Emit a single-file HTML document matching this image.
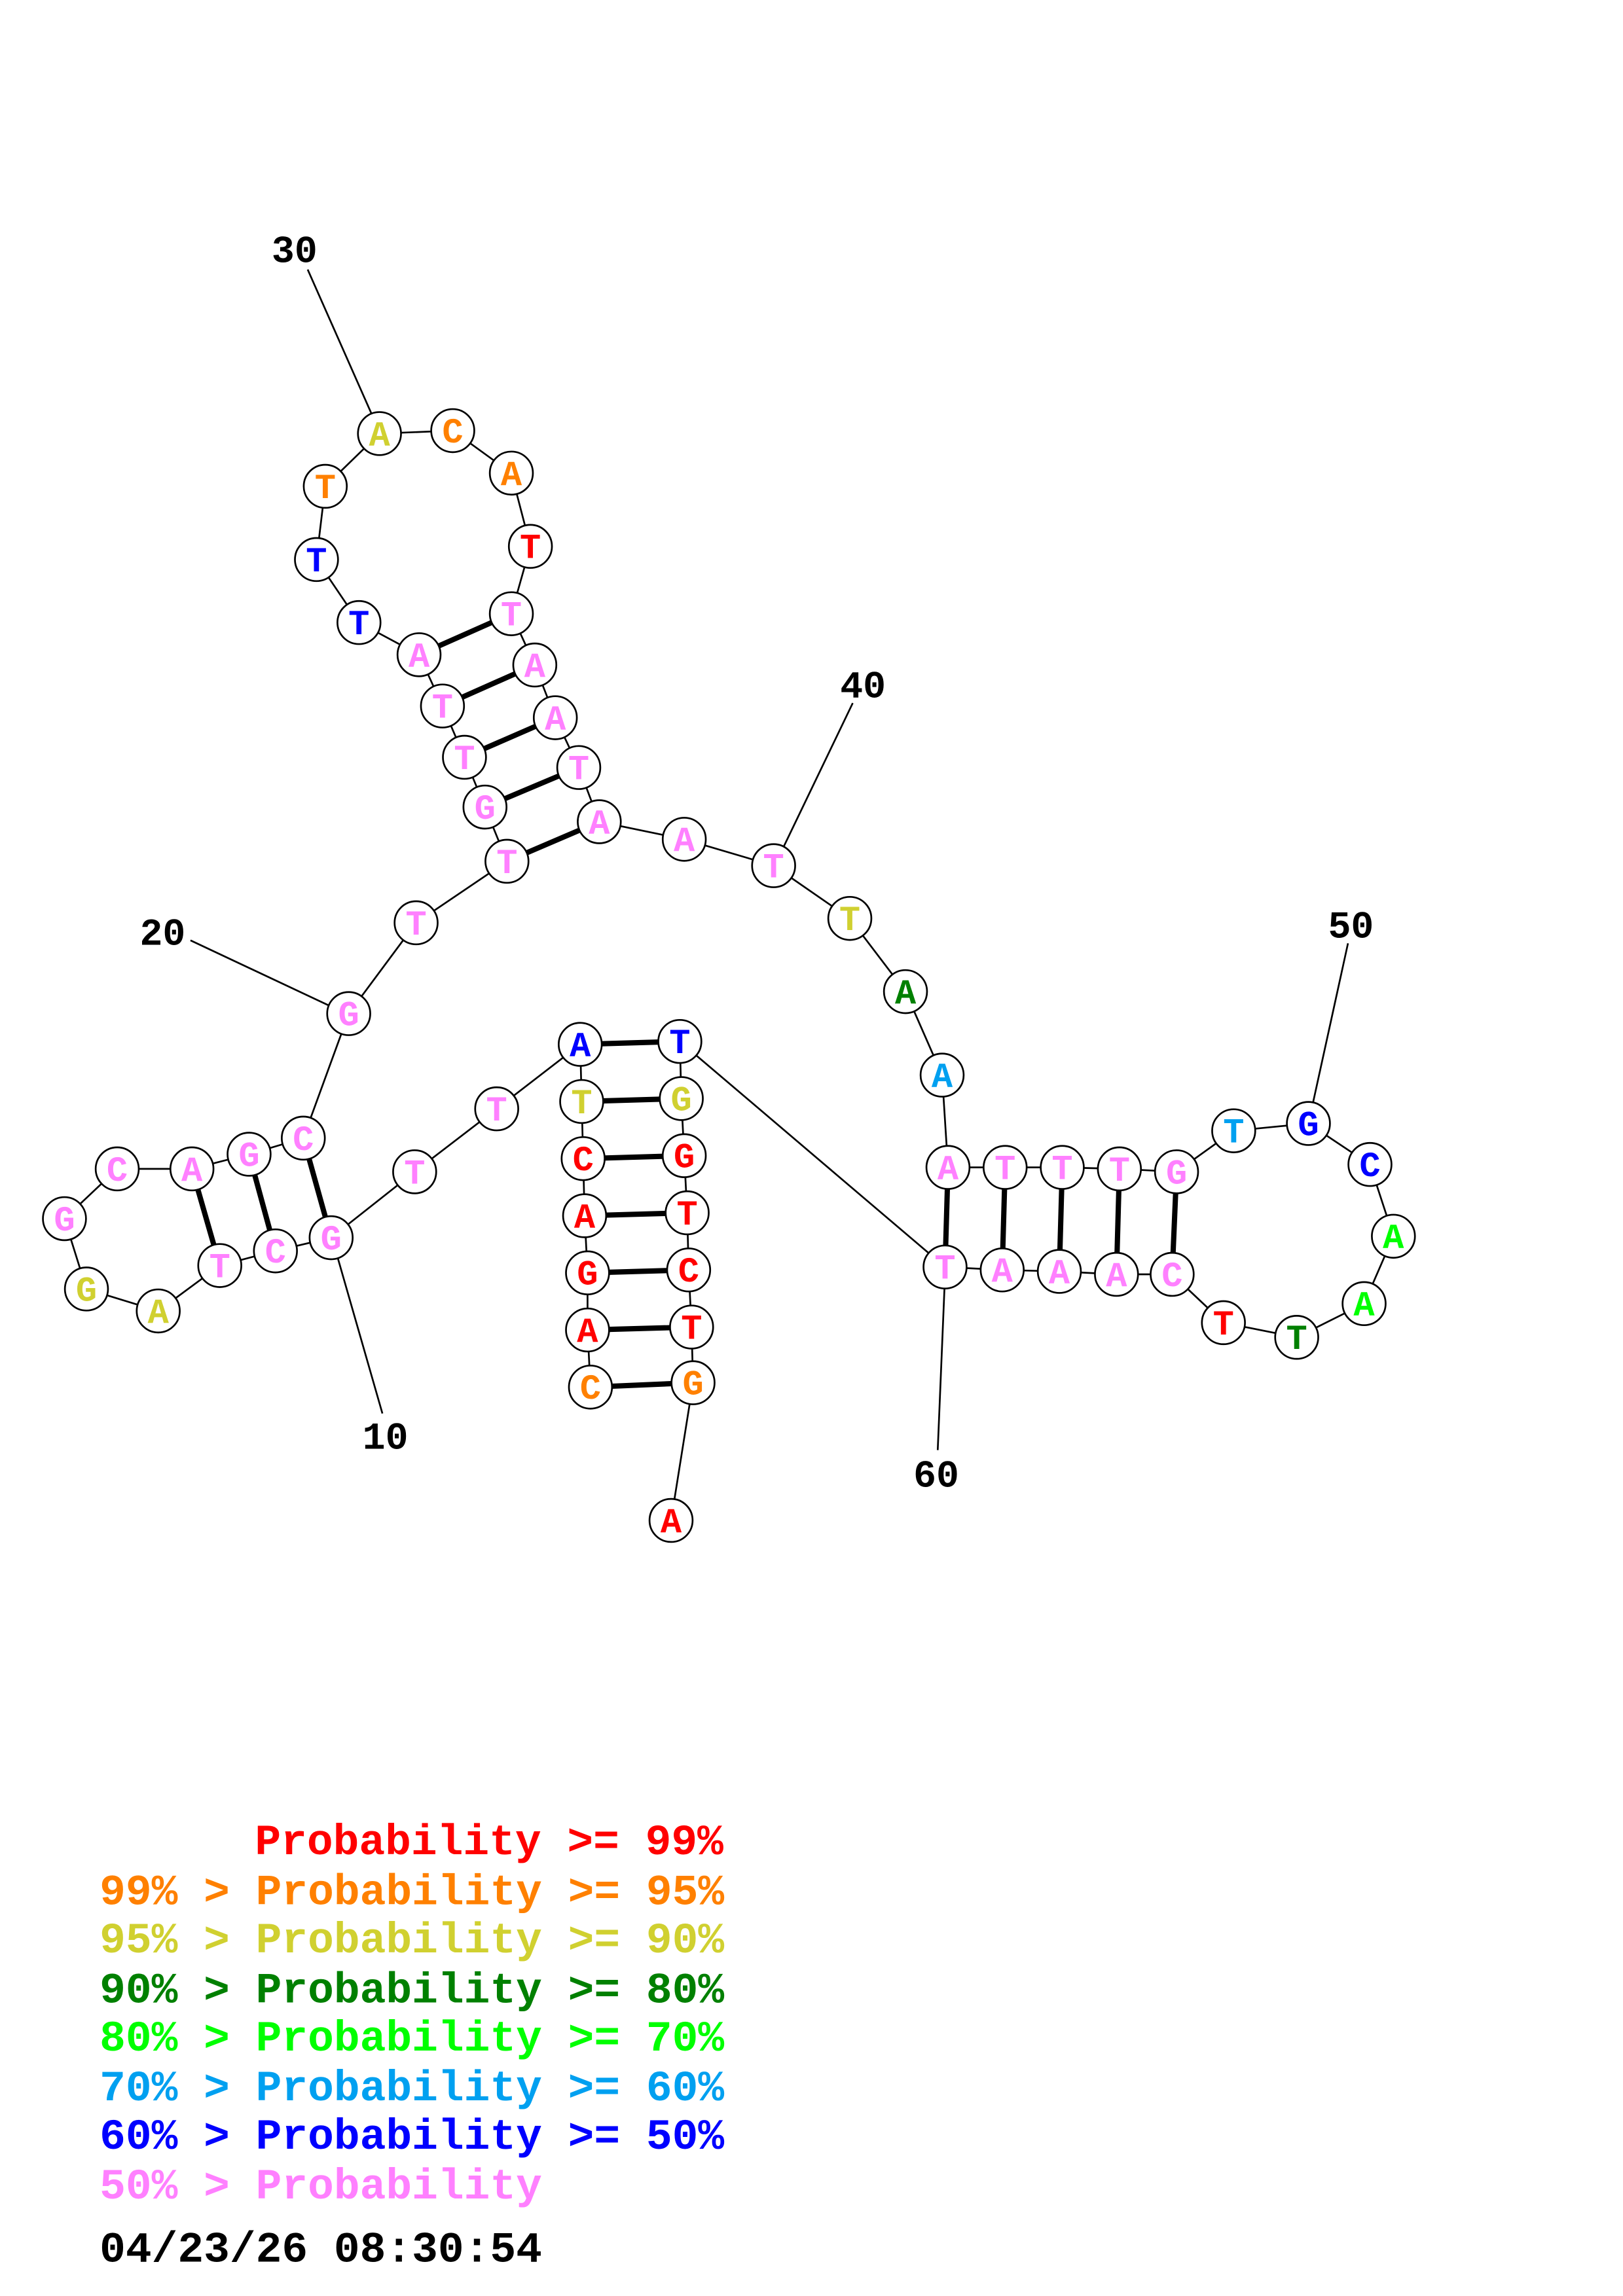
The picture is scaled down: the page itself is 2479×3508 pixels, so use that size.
<!DOCTYPE html>
<html><head><meta charset="utf-8"><style>
html,body{margin:0;padding:0;background:#fff}
svg{display:block}
.n circle{fill:#fff;stroke:#000;stroke-width:1.2}
.n text{font-family:"Liberation Mono",monospace;font-weight:bold;font-size:24px;text-anchor:middle}
.lab{font-family:"Liberation Mono",monospace;font-weight:bold;font-size:26px;text-anchor:middle;fill:#000}
.lg{font-family:"Liberation Mono",monospace;font-weight:bold;font-size:29.6px;white-space:pre}
</style></head><body>
<svg width="2479" height="3508" viewBox="0 0 1107.7 1567.5" preserveAspectRatio="none" xmlns="http://www.w3.org/2000/svg">
<g stroke="#000" stroke-width="1.2" fill="none">
<polyline points="403,947 401,908 401,869 399,830 398,791 397,752 396,713 339,757 283,800 226,845 188,854 150,864 108,895 59,880 44,832 80,798 131,798 170,788 207,777 238,692 284,630 346,588 331,551 317,517 302,482 286,447 245,425 216,382 222,332 259,296 309,294 349,323 362,373 349,419 365,454 379,490 395,524 409,561 467,573 528,591 580,627 618,677 643,734 647,797 686,797 725,797 764,798 803,800 842,772 893,767 935,795 951,844 931,890 885,913 835,903 800,870 762,870 723,868 684,867 645,865 464,711 465,750 467,789 469,828 470,867 472,906 473,944 458,1038"/>
<line x1="210" y1="184" x2="256" y2="288"/>
<line x1="582" y1="480" x2="532" y2="584"/>
<line x1="130" y1="642" x2="232" y2="690"/>
<line x1="920" y1="644" x2="895" y2="758"/>
<line x1="261" y1="965" x2="228" y2="850"/>
<line x1="640" y1="990" x2="645" y2="870"/>
</g>
<g stroke="#000" stroke-width="3.6">
<line x1="403" y1="947" x2="473" y2="944"/>
<line x1="401" y1="908" x2="472" y2="906"/>
<line x1="401" y1="869" x2="470" y2="867"/>
<line x1="399" y1="830" x2="469" y2="828"/>
<line x1="398" y1="791" x2="467" y2="789"/>
<line x1="397" y1="752" x2="465" y2="750"/>
<line x1="396" y1="713" x2="464" y2="711"/>
<line x1="226" y1="845" x2="207" y2="777"/>
<line x1="188" y1="854" x2="170" y2="788"/>
<line x1="150" y1="864" x2="131" y2="798"/>
<line x1="346" y1="588" x2="409" y2="561"/>
<line x1="331" y1="551" x2="395" y2="524"/>
<line x1="317" y1="517" x2="379" y2="490"/>
<line x1="302" y1="482" x2="365" y2="454"/>
<line x1="286" y1="447" x2="349" y2="419"/>
<line x1="647" y1="797" x2="645" y2="865"/>
<line x1="686" y1="797" x2="684" y2="867"/>
<line x1="725" y1="797" x2="723" y2="868"/>
<line x1="764" y1="798" x2="762" y2="870"/>
<line x1="803" y1="800" x2="800" y2="870"/>
</g>
<g class="n">
<g><circle cx="403" cy="947" r="14.7"/><text x="403" y="955" fill="#ff8000">C</text></g>
<g><circle cx="401" cy="908" r="14.7"/><text x="401" y="916" fill="#ff0000">A</text></g>
<g><circle cx="401" cy="869" r="14.7"/><text x="401" y="877" fill="#ff0000">G</text></g>
<g><circle cx="399" cy="830" r="14.7"/><text x="399" y="838" fill="#ff0000">A</text></g>
<g><circle cx="398" cy="791" r="14.7"/><text x="398" y="799" fill="#ff0000">C</text></g>
<g><circle cx="397" cy="752" r="14.7"/><text x="397" y="760" fill="#d0d030">T</text></g>
<g><circle cx="396" cy="713" r="14.7"/><text x="396" y="721" fill="#0000ff">A</text></g>
<g><circle cx="339" cy="757" r="14.7"/><text x="339" y="765" fill="#ff80ff">T</text></g>
<g><circle cx="283" cy="800" r="14.7"/><text x="283" y="808" fill="#ff80ff">T</text></g>
<g><circle cx="226" cy="845" r="14.7"/><text x="226" y="853" fill="#ff80ff">G</text></g>
<g><circle cx="188" cy="854" r="14.7"/><text x="188" y="862" fill="#ff80ff">C</text></g>
<g><circle cx="150" cy="864" r="14.7"/><text x="150" y="872" fill="#ff80ff">T</text></g>
<g><circle cx="108" cy="895" r="14.7"/><text x="108" y="903" fill="#d0d030">A</text></g>
<g><circle cx="59" cy="880" r="14.7"/><text x="59" y="888" fill="#d0d030">G</text></g>
<g><circle cx="44" cy="832" r="14.7"/><text x="44" y="840" fill="#ff80ff">G</text></g>
<g><circle cx="80" cy="798" r="14.7"/><text x="80" y="806" fill="#ff80ff">C</text></g>
<g><circle cx="131" cy="798" r="14.7"/><text x="131" y="806" fill="#ff80ff">A</text></g>
<g><circle cx="170" cy="788" r="14.7"/><text x="170" y="796" fill="#ff80ff">G</text></g>
<g><circle cx="207" cy="777" r="14.7"/><text x="207" y="785" fill="#ff80ff">C</text></g>
<g><circle cx="238" cy="692" r="14.7"/><text x="238" y="700" fill="#ff80ff">G</text></g>
<g><circle cx="284" cy="630" r="14.7"/><text x="284" y="638" fill="#ff80ff">T</text></g>
<g><circle cx="346" cy="588" r="14.7"/><text x="346" y="596" fill="#ff80ff">T</text></g>
<g><circle cx="331" cy="551" r="14.7"/><text x="331" y="559" fill="#ff80ff">G</text></g>
<g><circle cx="317" cy="517" r="14.7"/><text x="317" y="525" fill="#ff80ff">T</text></g>
<g><circle cx="302" cy="482" r="14.7"/><text x="302" y="490" fill="#ff80ff">T</text></g>
<g><circle cx="286" cy="447" r="14.7"/><text x="286" y="455" fill="#ff80ff">A</text></g>
<g><circle cx="245" cy="425" r="14.7"/><text x="245" y="433" fill="#0000ff">T</text></g>
<g><circle cx="216" cy="382" r="14.7"/><text x="216" y="390" fill="#0000ff">T</text></g>
<g><circle cx="222" cy="332" r="14.7"/><text x="222" y="340" fill="#ff8000">T</text></g>
<g><circle cx="259" cy="296" r="14.7"/><text x="259" y="304" fill="#d0d030">A</text></g>
<g><circle cx="309" cy="294" r="14.7"/><text x="309" y="302" fill="#ff8000">C</text></g>
<g><circle cx="349" cy="323" r="14.7"/><text x="349" y="331" fill="#ff8000">A</text></g>
<g><circle cx="362" cy="373" r="14.7"/><text x="362" y="381" fill="#ff0000">T</text></g>
<g><circle cx="349" cy="419" r="14.7"/><text x="349" y="427" fill="#ff80ff">T</text></g>
<g><circle cx="365" cy="454" r="14.7"/><text x="365" y="462" fill="#ff80ff">A</text></g>
<g><circle cx="379" cy="490" r="14.7"/><text x="379" y="498" fill="#ff80ff">A</text></g>
<g><circle cx="395" cy="524" r="14.7"/><text x="395" y="532" fill="#ff80ff">T</text></g>
<g><circle cx="409" cy="561" r="14.7"/><text x="409" y="569" fill="#ff80ff">A</text></g>
<g><circle cx="467" cy="573" r="14.7"/><text x="467" y="581" fill="#ff80ff">A</text></g>
<g><circle cx="528" cy="591" r="14.7"/><text x="528" y="599" fill="#ff80ff">T</text></g>
<g><circle cx="580" cy="627" r="14.7"/><text x="580" y="635" fill="#d0d030">T</text></g>
<g><circle cx="618" cy="677" r="14.7"/><text x="618" y="685" fill="#008000">A</text></g>
<g><circle cx="643" cy="734" r="14.7"/><text x="643" y="742" fill="#00a0f0">A</text></g>
<g><circle cx="647" cy="797" r="14.7"/><text x="647" y="805" fill="#ff80ff">A</text></g>
<g><circle cx="686" cy="797" r="14.7"/><text x="686" y="805" fill="#ff80ff">T</text></g>
<g><circle cx="725" cy="797" r="14.7"/><text x="725" y="805" fill="#ff80ff">T</text></g>
<g><circle cx="764" cy="798" r="14.7"/><text x="764" y="806" fill="#ff80ff">T</text></g>
<g><circle cx="803" cy="800" r="14.7"/><text x="803" y="808" fill="#ff80ff">G</text></g>
<g><circle cx="842" cy="772" r="14.7"/><text x="842" y="780" fill="#00a0f0">T</text></g>
<g><circle cx="893" cy="767" r="14.7"/><text x="893" y="775" fill="#0000ff">G</text></g>
<g><circle cx="935" cy="795" r="14.7"/><text x="935" y="803" fill="#0000ff">C</text></g>
<g><circle cx="951" cy="844" r="14.7"/><text x="951" y="852" fill="#00ff00">A</text></g>
<g><circle cx="931" cy="890" r="14.7"/><text x="931" y="898" fill="#00ff00">A</text></g>
<g><circle cx="885" cy="913" r="14.7"/><text x="885" y="921" fill="#008000">T</text></g>
<g><circle cx="835" cy="903" r="14.7"/><text x="835" y="911" fill="#ff0000">T</text></g>
<g><circle cx="800" cy="870" r="14.7"/><text x="800" y="878" fill="#ff80ff">C</text></g>
<g><circle cx="762" cy="870" r="14.7"/><text x="762" y="878" fill="#ff80ff">A</text></g>
<g><circle cx="723" cy="868" r="14.7"/><text x="723" y="876" fill="#ff80ff">A</text></g>
<g><circle cx="684" cy="867" r="14.7"/><text x="684" y="875" fill="#ff80ff">A</text></g>
<g><circle cx="645" cy="865" r="14.7"/><text x="645" y="873" fill="#ff80ff">T</text></g>
<g><circle cx="464" cy="711" r="14.7"/><text x="464" y="719" fill="#0000ff">T</text></g>
<g><circle cx="465" cy="750" r="14.7"/><text x="465" y="758" fill="#d0d030">G</text></g>
<g><circle cx="467" cy="789" r="14.7"/><text x="467" y="797" fill="#ff0000">G</text></g>
<g><circle cx="469" cy="828" r="14.7"/><text x="469" y="836" fill="#ff0000">T</text></g>
<g><circle cx="470" cy="867" r="14.7"/><text x="470" y="875" fill="#ff0000">C</text></g>
<g><circle cx="472" cy="906" r="14.7"/><text x="472" y="914" fill="#ff0000">T</text></g>
<g><circle cx="473" cy="944" r="14.7"/><text x="473" y="952" fill="#ff8000">G</text></g>
<g><circle cx="458" cy="1038" r="14.7"/><text x="458" y="1046" fill="#ff0000">A</text></g>
</g>
<text class="lab" x="201" y="179">30</text>
<text class="lab" x="589" y="476">40</text>
<text class="lab" x="111" y="645">20</text>
<text class="lab" x="922" y="640">50</text>
<text class="lab" x="263" y="989">10</text>
<text class="lab" x="639" y="1015">60</text>
<text class="lg" x="174" y="1266" fill="#ff0000">Probability &gt;= 99%</text>
<text class="lg" x="68" y="1300" fill="#ff8000">99% &gt; Probability &gt;= 95%</text>
<text class="lg" x="68" y="1333" fill="#d0d030">95% &gt; Probability &gt;= 90%</text>
<text class="lg" x="68" y="1367" fill="#008000">90% &gt; Probability &gt;= 80%</text>
<text class="lg" x="68" y="1400" fill="#00ff00">80% &gt; Probability &gt;= 70%</text>
<text class="lg" x="68" y="1434" fill="#00a0f0">70% &gt; Probability &gt;= 60%</text>
<text class="lg" x="68" y="1467" fill="#0000ff">60% &gt; Probability &gt;= 50%</text>
<text class="lg" x="68" y="1501" fill="#ff80ff">50% &gt; Probability</text>
<text class="lg" x="68" y="1544" fill="#000">04/23/26 08:30:54</text>
</svg>
</body></html>
